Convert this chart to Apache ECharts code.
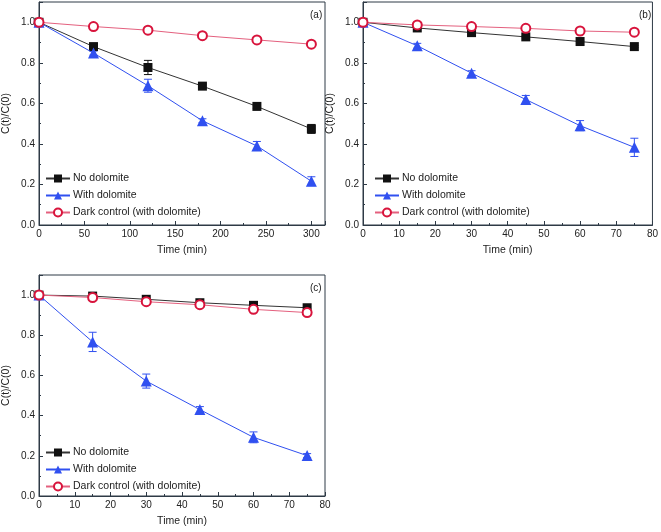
<!DOCTYPE html>
<html><head><meta charset="utf-8">
<script src="https://cdn.jsdelivr.net/npm/echarts@6/dist/echarts.min.js"></script>
<style>html,body{margin:0;padding:0;background:#fff}#c{width:661px;height:532px}</style>
</head><body><div id="c"></div>
<script>
// Panel (a)
const timeA = [0, 60, 120, 180, 240, 300];
const noDoloA = [1.0, 0.880, 0.777, 0.685, 0.585, 0.474];
const noDoloErrA = [0, 0.008, 0.035, 0.01, 0.01, 0.022];
const withDoloA = [1.0, 0.848, 0.687, 0.514, 0.390, 0.216];
const withDoloErrA = [0, 0.01, 0.032, 0.01, 0.022, 0.022];
const darkA = [1.0, 0.979, 0.961, 0.934, 0.913, 0.892];
// Panel (b)
const timeB = [0, 15, 30, 45, 60, 75];
const noDoloB = [1.0, 0.972, 0.949, 0.928, 0.905, 0.880];
const noDoloErrB = [0, 0.005, 0.005, 0.005, 0.005, 0.005];
const withDoloB = [1.0, 0.884, 0.749, 0.619, 0.490, 0.383];
const withDoloErrB = [0, 0.012, 0.012, 0.02, 0.025, 0.045];
const darkB = [1.0, 0.987, 0.979, 0.970, 0.957, 0.951];
// Panel (c)
const timeC = [0, 15, 30, 45, 60, 75];
const noDoloC = [1.0, 0.995, 0.979, 0.962, 0.949, 0.937];
const noDoloErrC = [0, 0.004, 0.004, 0.004, 0.004, 0.004];
const withDoloC = [1.0, 0.767, 0.572, 0.430, 0.292, 0.201];
const withDoloErrC = [0, 0.048, 0.035, 0.015, 0.027, 0.01];
const darkC = [1.0, 0.988, 0.967, 0.952, 0.929, 0.913];

const panelLabels = ['(a)', '(b)', '(c)'];
const names = ['No dolomite', 'With dolomite', 'Dark control (with dolomite)'];
const xMax = [315, 80, 80];
const xInterval = [50, 10, 10];

const FONT = '"Liberation Sans", Arial, sans-serif';
const AX = '#2e3a46';
const TXT = '#222';
const BLACK = '#111';
const BLUE = '#3050f0';
const RED = '#d8143c';
const PINK = '#e4607e';

const grids = [
  {left: 34, top: 2, width: 291, height: 223},
  {left: 363, top: 2, width: 291, height: 223},
  {left: 34, top: 275, width: 291, height: 221}
];

const panels = [
  {t: timeA, nd: noDoloA, nde: noDoloErrA, wd: withDoloA, wde: withDoloErrA, dk: darkA},
  {t: timeB, nd: noDoloB, nde: noDoloErrB, wd: withDoloB, wde: withDoloErrB, dk: darkB},
  {t: timeC, nd: noDoloC, nde: noDoloErrC, wd: withDoloC, wde: withDoloErrC, dk: darkC}
];

function pairs(t, v) { return t.map((x, i) => [x, v[i]]); }
function errData(t, v, e) { return t.map((x, i) => [x, v[i], e[i]]); }

function errSeries(i, data, color) {
  return {
    type: 'custom', xAxisIndex: i, yAxisIndex: i, z: 1, silent: true,
    data: data,
    renderItem: function (params, api) {
      const x = api.value(0), y = api.value(1), e = api.value(2);
      if (!e) return null;
      const top = api.coord([x, y + e]);
      const bot = api.coord([x, y - e]);
      const w = 4;
      return {
        type: 'group',
        children: [
          {type: 'line', shape: {x1: top[0], y1: top[1], x2: bot[0], y2: bot[1]}, style: {stroke: color, lineWidth: 1}},
          {type: 'line', shape: {x1: top[0] - w, y1: top[1], x2: top[0] + w, y2: top[1]}, style: {stroke: color, lineWidth: 1}},
          {type: 'line', shape: {x1: bot[0] - w, y1: bot[1], x2: bot[0] + w, y2: bot[1]}, style: {stroke: color, lineWidth: 1}}
        ]
      };
    }
  };
}

const xAxes = [], yAxes = [], series = [], legends = [], titles = [];
panels.forEach((p, i) => {
  const g = grids[i];
  xAxes.push({
    type: 'value', gridIndex: i, min: 0, max: xMax[i], interval: xInterval[i],
    name: 'Time (min)', nameLocation: 'middle', nameGap: 20,
    nameTextStyle: {fontFamily: FONT, fontSize: 10.5, color: TXT},
    axisLine: {lineStyle: {color: AX, width: 1}},
    axisTick: {inside: true, length: 4, lineStyle: {color: AX}},
    minorTick: {show: true, splitNumber: 2, length: 2, lineStyle: {color: AX}},
    splitLine: {show: false},
    axisLabel: {fontFamily: FONT, fontSize: 10, color: TXT, margin: 4, showMaxLabel: i !== 0}
  });
  yAxes.push({
    type: 'value', gridIndex: i, min: 0, max: 1.1, interval: 0.2,
    name: 'C(t)/C(0)', nameLocation: 'middle', nameGap: 27,
    nameTextStyle: {fontFamily: FONT, fontSize: 10.5, color: TXT},
    axisLine: {lineStyle: {color: AX, width: 1}},
    axisTick: {inside: true, length: 4, lineStyle: {color: AX}},
    minorTick: {show: true, splitNumber: 2, length: 2, lineStyle: {color: AX}},
    splitLine: {show: false},
    axisLabel: {fontFamily: FONT, fontSize: 10, color: TXT, margin: 4, showMaxLabel: false,
      formatter: v => v.toFixed(1)}
  });
  series.push(errSeries(i, errData(p.t, p.nd, p.nde), BLACK));
  series.push(errSeries(i, errData(p.t, p.wd, p.wde), BLUE));
  series.push({
    name: names[0], type: 'line', xAxisIndex: i, yAxisIndex: i, z: 3,
    data: pairs(p.t, p.nd), symbol: 'rect', symbolSize: 9,
    itemStyle: {color: BLACK}, lineStyle: {color: '#333', width: 1}
  });
  series.push({
    name: names[1], type: 'line', xAxisIndex: i, yAxisIndex: i, z: 4,
    data: pairs(p.t, p.wd), symbol: 'triangle', symbolSize: 11,
    itemStyle: {color: BLUE}, lineStyle: {color: BLUE, width: 1}
  });
  series.push({
    name: names[2], type: 'line', xAxisIndex: i, yAxisIndex: i, z: 5,
    data: pairs(p.t, p.dk), symbol: 'circle', symbolSize: 9,
    itemStyle: {color: '#fff', borderColor: RED, borderWidth: 2},
    lineStyle: {color: PINK, width: 1}
  });
  legends.push({
    data: names, orient: 'vertical', left: g.left + 6, top: (i === 2 ? 442 : 168),
    itemWidth: 24, itemHeight: 10, itemGap: 6,
    textStyle: {fontFamily: FONT, fontSize: 10.5, color: TXT, padding: [0, 0, 0, -2]},
    selectedMode: false
  });
  titles.push({
    text: panelLabels[i], left: g.left + g.width - 20, top: g.top + 3,
    textStyle: {fontFamily: FONT, fontSize: 10, fontWeight: 'normal', color: TXT}
  });
});

const chart = echarts.init(document.getElementById('c'), null, {renderer: 'canvas'});
chart.setOption({
  animation: false,
  backgroundColor: '#fff',
  title: titles,
  grid: grids.map(g => Object.assign({show: true, borderColor: AX, borderWidth: 1, backgroundColor: 'transparent'}, g)),
  xAxis: xAxes,
  yAxis: yAxes,
  legend: legends,
  series: series
});
</script></body></html>
